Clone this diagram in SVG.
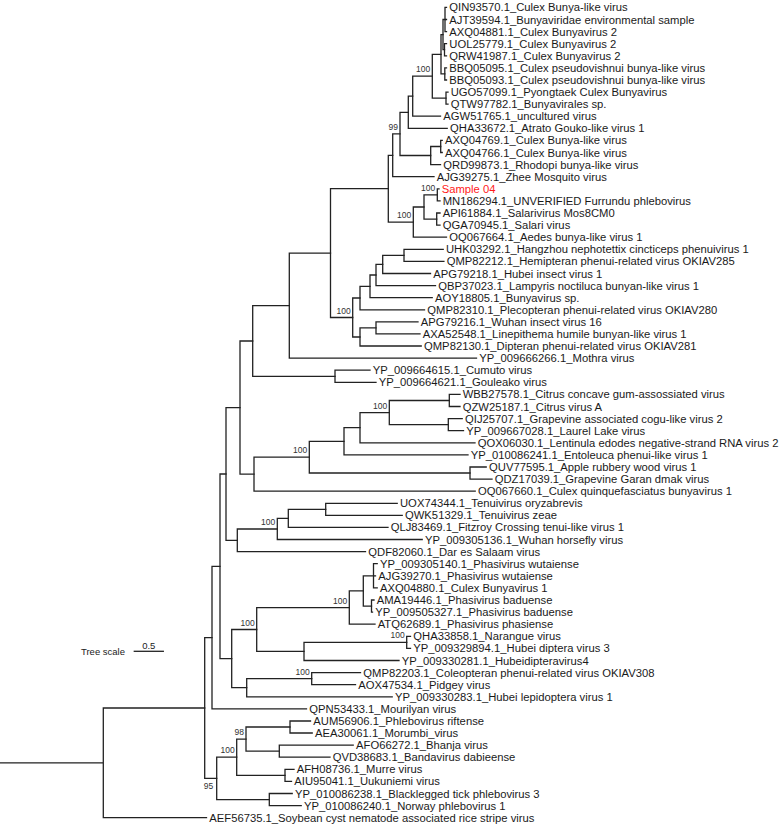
<svg xmlns="http://www.w3.org/2000/svg" width="783" height="826" viewBox="0 0 783 826">
<style>
.br{fill:none;stroke:#222;stroke-width:1.3;stroke-linecap:square}
.lb{font-family:"Liberation Sans",Arial,sans-serif;font-size:11.25px;fill:#1a1a1a}
.bs{font-family:"Liberation Sans",Arial,sans-serif;font-size:8.5px;fill:#333;text-anchor:end}
.sc{font-family:"Liberation Sans",Arial,sans-serif;font-size:9.5px;fill:#222}
</style>
<rect width="783" height="826" fill="#fff"/>
<g id="connectors">
<path class="br" d="M445 7.4V31.6M445 7.4H446.5M445 19.5H446.5M445 31.6H446.5"/>
<path class="br" d="M444.5 43.7V55.8M444.5 43.7H446.5M444.5 55.8H446.5"/>
<path class="br" d="M443 19.5V49.7M443 19.5H445M443 49.7H444.5"/>
<path class="br" d="M444.8 67.9V80M444.8 67.9H446.5M444.8 80H446.5"/>
<path class="br" d="M441 34.6V73.9M441 34.6H443M441 73.9H444.8"/>
<path class="br" d="M446 92.1V104.2M446 92.1H448M446 104.2H448"/>
<path class="br" d="M432.3 54.3V98.1M432.3 54.3H441M432.3 98.1H446"/>
<path class="br" d="M412.7 76.2V116.2M412.7 76.2H432.3M412.7 116.2H440.5"/>
<path class="br" d="M408.3 96.2V128.3M408.3 96.2H412.7M408.3 128.3H447.2"/>
<path class="br" d="M440.7 140.4V152.5M440.7 140.4H442.2M440.7 152.5H442.2"/>
<path class="br" d="M430.7 146.5V164.6M430.7 146.5H440.7M430.7 164.6H440.5"/>
<path class="br" d="M400 112.3V155.5M400 112.3H408.3M400 155.5H430.7"/>
<path class="br" d="M392.7 133.9V176.7M392.7 133.9H400M392.7 176.7H434"/>
<path class="br" d="M437.3 188.8V200.9M437.3 188.8H439M437.3 200.9H440"/>
<path class="br" d="M436.7 213V225.1M436.7 213H440M436.7 225.1H440"/>
<path class="br" d="M424 194.9V219.1M424 194.9H437.3M424 219.1H436.7"/>
<path class="br" d="M413.3 207V237.2M413.3 207H424M413.3 237.2H446.5"/>
<path class="br" d="M388.3 155.3V222.1M388.3 155.3H392.7M388.3 222.1H413.3"/>
<path class="br" d="M404 249.3V261.4M404 249.3H443.2M404 261.4H443.9"/>
<path class="br" d="M382.7 255.3V273.5M382.7 255.3H404M382.7 273.5H430.5"/>
<path class="br" d="M376 264.4V285.6M376 264.4H382.7M376 285.6H435.5"/>
<path class="br" d="M370 275V297.7M370 275H376M370 297.7H432.2"/>
<path class="br" d="M360 286.3V309.8M360 286.3H370M360 309.8H424.5"/>
<path class="br" d="M376 321.8V333.9M376 321.8H418M376 333.9H420"/>
<path class="br" d="M360 327.9V346M360 327.9H376M360 346H421.2"/>
<path class="br" d="M352.7 298V337M352.7 298H360M352.7 337H360"/>
<path class="br" d="M330.5 188.7V317.5M330.5 188.7H388.3M330.5 317.5H352.7"/>
<path class="br" d="M289.3 253.1V358.1M289.3 253.1H330.5M289.3 358.1H476.5"/>
<path class="br" d="M335 370.2V382.3M335 370.2H370M335 382.3H376"/>
<path class="br" d="M252.7 305.6V376.3M252.7 305.6H289.3M252.7 376.3H335"/>
<path class="br" d="M449.3 394.4V406.5M449.3 394.4H460M449.3 406.5H460"/>
<path class="br" d="M448.3 418.6V430.7M448.3 418.6H462.2M448.3 430.7H463.5"/>
<path class="br" d="M389.3 400.5V424.7M389.3 400.5H449.3M389.3 424.7H448.3"/>
<path class="br" d="M360 412.6V442.8M360 412.6H389.3M360 442.8H475"/>
<path class="br" d="M344 427.7V454.9M344 427.7H360M344 454.9H468"/>
<path class="br" d="M470 467V479.1M470 467H486.2M470 479.1H492"/>
<path class="br" d="M309.3 441.3V473M309.3 441.3H344M309.3 473H470"/>
<path class="br" d="M254 457.2V491.2M254 457.2H309.3M254 491.2H475.2"/>
<path class="br" d="M240 341V474.2M240 341H252.7M240 474.2H254"/>
<path class="br" d="M325.7 503.3V515.4M325.7 503.3H397.2M325.7 515.4H402.2"/>
<path class="br" d="M288.3 509.3V527.4M288.3 509.3H325.7M288.3 527.4H388"/>
<path class="br" d="M277.3 518.4V539.5M277.3 518.4H288.3M277.3 539.5H422.2"/>
<path class="br" d="M237.3 529V551.6M237.3 529H277.3M237.3 551.6H365.5"/>
<path class="br" d="M226 407.6V540.3M226 407.6H240M226 540.3H237.3"/>
<path class="br" d="M373.5 563.7V587.9M373.5 563.7H377.2M373.5 575.8H375.5M373.5 587.9H377.2"/>
<path class="br" d="M371.5 600V612.1M371.5 600H374M371.5 612.1H372.5"/>
<path class="br" d="M363.3 575.8V606.1M363.3 575.8H373.5M363.3 606.1H371.5"/>
<path class="br" d="M349.3 590.9V624.2M349.3 590.9H363.3M349.3 624.2H375"/>
<path class="br" d="M406.7 636.3V648.4M406.7 636.3H410.5M406.7 648.4H410.5"/>
<path class="br" d="M304 642.4V660.5M304 642.4H406.7M304 660.5H399"/>
<path class="br" d="M256.7 607.6V651.4M256.7 607.6H349.3M256.7 651.4H304"/>
<path class="br" d="M311.7 672.6V684.7M311.7 672.6H360.5M311.7 684.7H355.5"/>
<path class="br" d="M246.7 678.6V696.8M246.7 678.6H311.7M246.7 696.8H392.2"/>
<path class="br" d="M231.7 629.5V687.7M231.7 629.5H256.7M231.7 687.7H246.7"/>
<path class="br" d="M220 474V658.6M220 474H226M220 658.6H231.7"/>
<path class="br" d="M212 566.3V708.9M212 566.3H220M212 708.9H306.5"/>
<path class="br" d="M290 721V733M290 721H310.5M290 733H312.2"/>
<path class="br" d="M279.3 745.1V757.2M279.3 745.1H353.2M279.3 757.2H330"/>
<path class="br" d="M246 727V751.2M246 727H290M246 751.2H279.3"/>
<path class="br" d="M285 769.3V781.4M285 769.3H294M285 781.4H291.5"/>
<path class="br" d="M236.7 739.1V775.4M236.7 739.1H246M236.7 775.4H285"/>
<path class="br" d="M269.3 793.5V805.6M269.3 793.5H292.2M269.3 805.6H301.2"/>
<path class="br" d="M216.7 757.2V799.6M216.7 757.2H236.7M216.7 799.6H269.3"/>
<path class="br" d="M204.7 637.6V778.4M204.7 637.6H212M204.7 778.4H216.7"/>
<path class="br" d="M103.3 708V817.7M103.3 708H204.7M103.3 817.7H206.5M0 762.9H103.3"/>
</g>
<g id="support">
<text class="bs" x="430.3" y="72.2">100</text>
<text class="bs" x="398" y="129.9">99</text>
<text class="bs" x="435.3" y="190.9">100</text>
<text class="bs" x="411.3" y="218.1">100</text>
<text class="bs" x="350.7" y="313.5">100</text>
<text class="bs" x="387.3" y="408.6">100</text>
<text class="bs" x="307.3" y="453.2">100</text>
<text class="bs" x="275.3" y="525">100</text>
<text class="bs" x="347.3" y="603.6">100</text>
<text class="bs" x="404.7" y="638.4">100</text>
<text class="bs" x="254.7" y="625.5">100</text>
<text class="bs" x="309.7" y="674.6">100</text>
<text class="bs" x="244" y="735.1">98</text>
<text class="bs" x="234.7" y="753.2">100</text>
<text class="bs" x="213.3" y="789">95</text>
</g>
<g id="leaves" class="lb">
<g id="L1"><text x="449.3" y="11.4">QIN93570.1_Culex Bunya-like virus</text></g>
<g id="L2"><text x="449.3" y="23.5">AJT39594.1_Bunyaviridae environmental sample</text></g>
<g id="L3"><text x="449.3" y="35.6">AXQ04881.1_Culex Bunyavirus 2</text></g>
<g id="L4"><text x="449.3" y="47.7">UOL25779.1_Culex Bunyavirus 2</text></g>
<g id="L5"><text x="449.3" y="59.8">QRW41987.1_Culex Bunyavirus 2</text></g>
<g id="L6"><text x="449.3" y="71.9">BBQ05095.1_Culex pseudovishnui bunya-like virus</text></g>
<g id="L7"><text x="449.3" y="84">BBQ05093.1_Culex pseudovishnui bunya-like virus</text></g>
<g id="L8"><text x="450.7" y="96.1">UGO57099.1_Pyongtaek Culex Bunyavirus</text></g>
<g id="L9"><text x="450.7" y="108.2">QTW97782.1_Bunyavirales sp.</text></g>
<g id="L10"><text x="443.3" y="120.2">AGW51765.1_uncultured virus</text></g>
<g id="L11"><text x="450" y="132.3">QHA33672.1_Atrato Gouko-like virus 1</text></g>
<g id="L12"><text x="445" y="144.4">AXQ04769.1_Culex Bunya-like virus</text></g>
<g id="L13"><text x="445" y="156.5">AXQ04766.1_Culex Bunya-like virus</text></g>
<g id="L14"><text x="443.3" y="168.6">QRD99873.1_Rhodopi bunya-like virus</text></g>
<g id="L15"><text x="436.7" y="180.7">AJG39275.1_Zhee Mosquito virus</text></g>
<g id="L16"><text x="441.7" y="192.8" fill="#ff1a1a">Sample 04</text></g>
<g id="L17"><text x="442.7" y="204.9">MN186294.1_UNVERIFIED Furrundu phlebovirus</text></g>
<g id="L18"><text x="442.7" y="217">API61884.1_Salarivirus Mos8CM0</text></g>
<g id="L19"><text x="442.7" y="229.1">QGA70945.1_Salari virus</text></g>
<g id="L20"><text x="449.3" y="241.2">OQ067664.1_Aedes bunya-like virus 1</text></g>
<g id="L21"><text x="446" y="253.3">UHK03292.1_Hangzhou nephotettix cincticeps phenuivirus 1</text></g>
<g id="L22"><text x="446.7" y="265.4">QMP82212.1_Hemipteran phenui-related virus OKIAV285</text></g>
<g id="L23"><text x="433.3" y="277.5">APG79218.1_Hubei insect virus 1</text></g>
<g id="L24"><text x="438.3" y="289.6">QBP37023.1_Lampyris noctiluca bunyan-like virus 1</text></g>
<g id="L25"><text x="435" y="301.7">AOY18805.1_Bunyavirus sp.</text></g>
<g id="L26"><text x="427.3" y="313.8">QMP82310.1_Plecopteran phenui-related virus OKIAV280</text></g>
<g id="L27"><text x="420.7" y="325.8">APG79216.1_Wuhan insect virus 16</text></g>
<g id="L28"><text x="422.7" y="337.9">AXA52548.1_Linepithema humile bunyan-like virus 1</text></g>
<g id="L29"><text x="424" y="350">QMP82130.1_Dipteran phenui-related virus OKIAV281</text></g>
<g id="L30"><text x="479.3" y="362.1">YP_009666266.1_Mothra virus</text></g>
<g id="L31"><text x="372.7" y="374.2">YP_009664615.1_Cumuto virus</text></g>
<g id="L32"><text x="378.7" y="386.3">YP_009664621.1_Gouleako virus</text></g>
<g id="L33"><text x="462.7" y="398.4">WBB27578.1_Citrus concave gum-assossiated virus</text></g>
<g id="L34"><text x="462.7" y="410.5">QZW25187.1_Citrus virus A</text></g>
<g id="L35"><text x="465" y="422.6">QIJ25707.1_Grapevine associated cogu-like virus 2</text></g>
<g id="L36"><text x="466.3" y="434.7">YP_009667028.1_Laurel Lake virus</text></g>
<g id="L37"><text x="477.7" y="446.8">QOX06030.1_Lentinula edodes negative-strand RNA virus 2</text></g>
<g id="L38"><text x="470.7" y="458.9">YP_010086241.1_Entoleuca phenui-like virus 1</text></g>
<g id="L39"><text x="489" y="471">QUV77595.1_Apple rubbery wood virus 1</text></g>
<g id="L40"><text x="494.7" y="483.1">QDZ17039.1_Grapevine Garan dmak virus</text></g>
<g id="L41"><text x="478" y="495.2">OQ067660.1_Culex quinquefasciatus bunyavirus 1</text></g>
<g id="L42"><text x="400" y="507.3">UOX74344.1_Tenuivirus oryzabrevis</text></g>
<g id="L43"><text x="405" y="519.4">QWK51329.1_Tenuivirus zeae</text></g>
<g id="L44"><text x="390.7" y="531.4">QLJ83469.1_Fitzroy Crossing tenui-like virus 1</text></g>
<g id="L45"><text x="425" y="543.5">YP_009305136.1_Wuhan horsefly virus</text></g>
<g id="L46"><text x="368.3" y="555.6">QDF82060.1_Dar es Salaam virus</text></g>
<g id="L47"><text x="380" y="567.7">YP_009305140.1_Phasivirus wutaiense</text></g>
<g id="L48"><text x="378.3" y="579.8">AJG39270.1_Phasivirus wutaiense</text></g>
<g id="L49"><text x="380" y="591.9">AXQ04880.1_Culex Bunyavirus 1</text></g>
<g id="L50"><text x="376.7" y="604">AMA19446.1_Phasivirus baduense</text></g>
<g id="L51"><text x="375.3" y="616.1">YP_009505327.1_Phasivirus baduense</text></g>
<g id="L52"><text x="377.7" y="628.2">ATQ62689.1_Phasivirus phasiense</text></g>
<g id="L53"><text x="413.3" y="640.3">QHA33858.1_Narangue virus</text></g>
<g id="L54"><text x="413.3" y="652.4">YP_009329894.1_Hubei diptera virus 3</text></g>
<g id="L55"><text x="401.7" y="664.5">YP_009330281.1_Hubeidipteravirus4</text></g>
<g id="L56"><text x="363.3" y="676.6">QMP82203.1_Coleopteran phenui-related virus OKIAV308</text></g>
<g id="L57"><text x="358.3" y="688.7">AOX47534.1_Pidgey virus</text></g>
<g id="L58"><text x="395" y="700.8">YP_009330283.1_Hubei lepidoptera virus 1</text></g>
<g id="L59"><text x="309.3" y="712.9">QPN53433.1_Mourilyan virus</text></g>
<g id="L60"><text x="313.3" y="725">AUM56906.1_Phlebovirus riftense</text></g>
<g id="L61"><text x="315" y="737">AEA30061.1_Morumbi_virus</text></g>
<g id="L62"><text x="356" y="749.1">AFO66272.1_Bhanja virus</text></g>
<g id="L63"><text x="332.7" y="761.2">QVD38683.1_Bandavirus dabieense</text></g>
<g id="L64"><text x="296.7" y="773.3">AFH08736.1_Murre virus</text></g>
<g id="L65"><text x="294.3" y="785.4">AIU95041.1_Uukuniemi virus</text></g>
<g id="L66"><text x="295" y="797.5">YP_010086238.1_Blacklegged tick phlebovirus 3</text></g>
<g id="L67"><text x="304" y="809.6">YP_010086240.1_Norway phlebovirus 1</text></g>
<g id="L68"><text x="209.3" y="821.7">AEF56735.1_Soybean cyst nematode associated rice stripe virus</text></g>
</g>
<g id="scale">
<text class="sc" x="125" y="654.7" text-anchor="end">Tree scale</text>
<text class="sc" x="148.8" y="648.7" text-anchor="middle">0.5</text>
<path class="br" d="M134.3 651.3H163.3"/>
</g>
</svg>
